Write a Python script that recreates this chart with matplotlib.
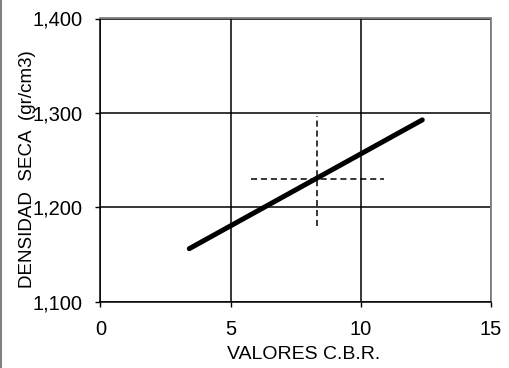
import matplotlib
matplotlib.use("Agg")
import matplotlib.pyplot as plt
from matplotlib.lines import Line2D

# Trend line: dry density vs CBR value
cbr_values = [3.41, 12.36]
density_values = [1.156, 1.2925]

# Reference crosshair at the design point
design_cbr = 8.3
design_density = 1.23
cross_cbr_range = [5.8, 10.9]
cross_density_range = [1.18, 1.297]

x_ticks = [0, 5, 10, 15]
y_ticks = [1.1, 1.2, 1.3, 1.4]
y_tick_labels = ["1,100", "1,200", "1,300", "1,400"]

plt.rcParams["font.family"] = ["Liberation Sans", "DejaVu Sans"]

fig = plt.figure(figsize=(5.10, 3.68), dpi=100)
ax = fig.add_axes([100.5 / 510, 1 - 301.5 / 368, 390.5 / 510, 283 / 368])

ax.set_xlim(0, 15)
ax.set_ylim(1.1, 1.4)
ax.set_xticks(x_ticks)
ax.set_yticks(y_ticks)
ax.set_yticklabels(y_tick_labels)
ax.tick_params(axis="both", direction="out", length=3.6, width=1, color="black",
               labelsize=14.5)
ax.tick_params(axis="x", pad=9.5)
ax.tick_params(axis="y", pad=9)

ax.grid(True, color="black", linewidth=1.1)
ax.set_axisbelow(True)

for side in ("left", "bottom"):
    ax.spines[side].set_color("black")
    ax.spines[side].set_linewidth(1.1)
for side in ("top", "right"):
    ax.spines[side].set_color("#808080")
    ax.spines[side].set_linewidth(1.3)

ax.plot(cbr_values, density_values, color="black", linewidth=3.6,
        solid_capstyle="round", zorder=3)
ax.plot(cross_cbr_range, [design_density, design_density], color="black",
        linewidth=1.1, linestyle=(0, (4, 2.5)), zorder=2)
ax.plot([design_cbr, design_cbr], cross_density_range, color="black",
        linewidth=1.1, linestyle=(0, (4, 2.5)), zorder=2)

ax.set_xlabel("VALORES C.B.R.", fontsize=14)
ax.xaxis.set_label_coords(0.52, -0.158)
ax.set_ylabel("DENSIDAD  SECA  (gr/cm3)", fontsize=13.5)
ax.yaxis.set_label_coords(-0.165, 0.468)

# Thin grey frame line along the left edge of the figure
fig.add_artist(Line2D([1.5 / 510, 1.5 / 510], [0, 1], color="#808080",
                      linewidth=1.5, transform=fig.transFigure))

fig.savefig("out.png", dpi=100)
